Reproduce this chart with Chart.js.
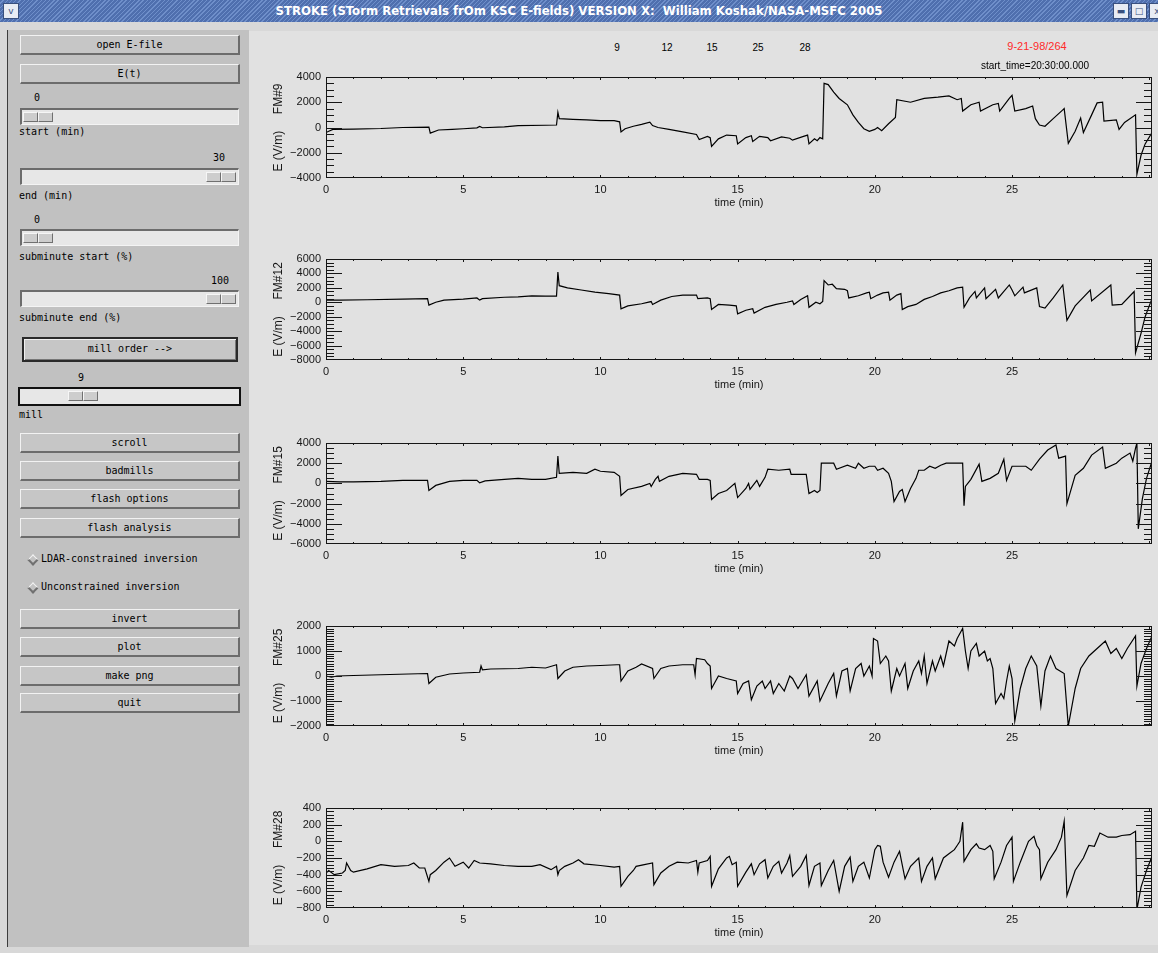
<!DOCTYPE html>
<html>
<head>
<meta charset="utf-8">
<script src="https://cdn.jsdelivr.net/npm/chart.js@4.4.1/dist/chart.umd.min.js"></script>
<style>
body{margin:0;width:1158px;height:953px;overflow:hidden;background:#d8d8d8;position:relative;font-family:"DejaVu Sans Mono",monospace;font-size:10px;color:#000}
#titlebar{position:absolute;left:0;top:0;width:1158px;height:22px;background:repeating-linear-gradient(135deg,#4f6fae 0,#4f6fae 2px,#6f8fca 2px,#6f8fca 3px);color:#fff;font:bold 13px "DejaVu Sans Condensed","DejaVu Sans",sans-serif;line-height:22px;text-align:center;white-space:pre}
.tbb{position:absolute;top:3px;width:14px;height:14px;background:#e8ecf4;border:1px solid #39507e;color:#39507e;font:9px "DejaVu Sans",sans-serif;line-height:14px;text-align:center}
#side{position:absolute;left:7px;top:30px;width:241px;height:917px;background:#c1c1c1;border-left:1px solid #3c3c3c}
.btn{position:absolute;left:12px;width:220px;height:20px;box-sizing:border-box;background:#c6c6c6;border-top:1px solid #f2f2f2;border-left:1px solid #f2f2f2;border-bottom:2px solid #6c6c6c;border-right:2px solid #6c6c6c;text-align:center;line-height:17px}
.lbl{position:absolute;left:11px;white-space:pre}
.track{position:absolute;left:12px;width:219px;height:17px;box-sizing:border-box;background:#e7e7e7;border-top:2px solid #6c6c6c;border-left:2px solid #6c6c6c;border-bottom:1px solid #f4f4f4;border-right:1px solid #f4f4f4}
.thumb{position:absolute;top:2px;width:15px;height:10px;box-sizing:border-box;background:#cdcdcd;border-top:1px solid #f6f6f6;border-left:1px solid #f6f6f6;border-bottom:1px solid #707070;border-right:1px solid #707070}
.dia{position:absolute;left:21px;width:8px;height:8px;box-sizing:border-box;transform:rotate(45deg);background:#c3c3c3;border-top:1px solid #f4f4f4;border-left:1px solid #f4f4f4;border-bottom:2px solid #707070;border-right:2px solid #707070}
#plots{position:absolute;left:249px;top:31px;width:909px;height:914px;background:#e1e1e1}
canvas{position:absolute;left:250px}
.hdr{position:absolute;font:10px "Liberation Sans",sans-serif;transform:translate(-50%,-50%);white-space:pre}
</style>
</head>
<body>
<div id="titlebar"><div class="tbb" style="left:3px">v</div>STROKE (STorm Retrievals frOm KSC E-fields) VERSION X:  William Koshak/NASA-MSFC 2005<div class="tbb" style="left:1113px">&#9644;</div><div class="tbb" style="left:1131px">&#9633;</div><div class="tbb" style="left:1149px">x</div></div>
<div id="side">
  <div class="btn" style="top:5px">open E-file</div>
  <div class="btn" style="top:34px">E(t)</div>
  <div class="lbl" style="left:26px;top:62px">0</div>
  <div class="track" style="top:78px"><div class="thumb" style="left:1px"></div><div class="thumb" style="left:16px"></div></div>
  <div class="lbl" style="top:96px">start (min)</div>
  <div class="lbl" style="left:205px;top:122px">30</div>
  <div class="track" style="top:138px"><div class="thumb" style="left:184px"></div><div class="thumb" style="left:199px"></div></div>
  <div class="lbl" style="top:160px">end (min)</div>
  <div class="lbl" style="left:26px;top:184px">0</div>
  <div class="track" style="top:199px"><div class="thumb" style="left:1px"></div><div class="thumb" style="left:16px"></div></div>
  <div class="lbl" style="top:221px">subminute start (%)</div>
  <div class="lbl" style="left:203px;top:245px">100</div>
  <div class="track" style="top:260px"><div class="thumb" style="left:184px"></div><div class="thumb" style="left:199px"></div></div>
  <div class="lbl" style="top:282px">subminute end (%)</div>
  <div class="btn" style="top:307px;left:14px;width:216px;height:25px;border:2px solid #2a2a2a;box-shadow:inset 1px 1px #f0f0f0,inset -1px -1px #777;line-height:20px">mill order --&gt;</div>
  <div class="lbl" style="left:70px;top:342px">9</div>
  <div class="track" style="top:357px;left:10px;width:223px;height:19px;border:2px solid #111"><div class="thumb" style="left:48px;top:2px"></div><div class="thumb" style="left:63px;top:2px"></div></div>
  <div class="lbl" style="top:379px">mill</div>
  <div class="btn" style="top:403px">scroll</div>
  <div class="btn" style="top:431px">badmills</div>
  <div class="btn" style="top:459px">flash options</div>
  <div class="btn" style="top:488px">flash analysis</div>
  <div class="dia" style="top:526px"></div><div class="lbl" style="left:33px;top:523px">LDAR-constrained inversion</div>
  <div class="dia" style="top:554px"></div><div class="lbl" style="left:33px;top:551px">Unconstrained inversion</div>
  <div class="btn" style="top:579px">invert</div>
  <div class="btn" style="top:607px">plot</div>
  <div class="btn" style="top:636px">make png</div>
  <div class="btn" style="top:663px">quit</div>
</div>
<div id="plots"></div>
<canvas id="c0" width="908" height="153" style="top:65px"></canvas>
<canvas id="c1" width="908" height="153" style="top:247px"></canvas>
<canvas id="c2" width="908" height="153" style="top:431px"></canvas>
<canvas id="c3" width="908" height="152" style="top:614px"></canvas>
<canvas id="c4" width="908" height="152" style="top:796px"></canvas>
<script>
// field mill ids shown above the plots
const mills = ['9', '12', '15', '25', '28'];
const stationDate = '9-21-98/264';
const startTime = 'start_time=20:30:00.000';

// [time (min), E (V/m)]
const fm9 = [[0,-400],[0.1,-300],[0.25,-150],[1,-130],[2,-80],[2.8,0],[3.75,30],[3.8,-450],[4.1,-200],[4.6,-150],[5,-100],[5.5,-30],[5.6,80],[5.7,-20],[6.5,50],[7,150],[8,180],[8.4,200],[8.45,1200],[8.5,700],[9,650],[9.5,600],[10,550],[10.5,550],[10.7,450],[10.75,-350],[10.9,-100],[11.2,100],[11.5,250],[11.8,420],[11.9,150],[12.1,0],[12.5,-150],[13,-350],[13.5,-550],[13.6,-950],[13.9,-700],[14,-800],[14.05,-1500],[14.3,-900],[14.6,-600],[14.95,-650],[15,-1300],[15.3,-800],[15.5,-650],[15.55,-1100],[15.8,-700],[16.1,-800],[16.2,-1050],[16.6,-750],[16.9,-850],[17,-1000],[17.4,-700],[17.55,-600],[17.6,-1300],[17.8,-900],[17.9,-1050],[18,-800],[18.1,-900],[18.15,3500],[18.3,3400],[18.5,2800],[18.7,2300],[19,1800],[19.2,1000],[19.4,400],[19.6,-100],[19.8,-300],[20,-150],[20.1,0],[20.25,-250],[20.5,300],[20.75,800],[20.8,2200],[21.3,2000],[21.8,2300],[22.3,2400],[22.7,2500],[23,2200],[23.15,2300],[23.2,1300],[23.5,1800],[23.8,2000],[23.85,1300],[24.3,1800],[24.5,1900],[24.55,1300],[24.9,2300],[25,2550],[25.1,1300],[25.5,1500],[25.75,1700],[25.85,700],[26,200],[26.2,100],[26.5,700],[26.85,1400],[26.9,1500],[27.05,-1250],[27.3,-300],[27.5,750],[27.6,-400],[27.9,1000],[28.1,1950],[28.3,2000],[28.35,500],[28.8,600],[28.9,-150],[29.1,400],[29.5,1000],[29.55,-3700],[29.7,-2200],[29.85,-1300],[30.1,-400]];
const fm12 = [[0,300],[0.5,300],[1.5,350],[2.8,450],[3.7,500],[3.75,-400],[4,0],[4.3,300],[5,450],[5.5,600],[5.6,300],[5.7,500],[6.5,700],[7,750],[7.5,900],[8,850],[8.4,850],[8.45,4200],[8.5,2300],[8.8,2000],[9.3,1700],[9.8,1400],[10.3,1200],[10.7,1000],[10.75,-900],[11,-500],[11.5,-200],[11.85,100],[11.9,-300],[12.2,300],[12.6,800],[13,1000],[13.5,1000],[13.55,500],[13.9,600],[14,500],[14.05,-1000],[14.3,-300],[14.7,-400],[14.95,-500],[15,-1600],[15.3,-1100],[15.55,-900],[15.6,-1500],[16,-700],[16.4,-300],[16.8,0],[17,200],[17.05,-300],[17.3,400],[17.55,900],[17.6,-700],[17.85,0],[18,-200],[18.1,100],[18.15,3000],[18.3,2400],[18.45,2500],[18.6,1900],[18.9,1800],[19,1600],[19.05,600],[19.4,900],[19.7,1300],[19.8,1400],[19.85,500],[20.1,1000],[20.3,1300],[20.5,1400],[20.55,300],[20.8,1000],[20.95,1200],[21,-1000],[21.2,-600],[21.5,-300],[21.8,400],[22.1,800],[22.4,1300],[22.7,1600],[23,2000],[23.2,2100],[23.25,-700],[23.45,600],[23.65,1500],[23.7,600],[24,2000],[24.05,500],[24.4,1800],[24.5,600],[24.9,2400],[25,1700],[25.1,900],[25.4,2100],[25.45,1300],[25.9,2000],[26,-600],[26.2,-800],[26.5,600],[26.85,2400],[27,-2500],[27.3,-500],[27.85,1700],[27.9,200],[28.6,2400],[28.65,-400],[29,-300],[29.45,1500],[29.5,-7000],[29.7,-4300],[29.85,-2000],[30.1,500]];
const fm15 = [[0,200],[0.5,150],[1,150],[2,200],[2.8,300],[3.7,300],[3.75,-700],[4,-200],[4.5,200],[5,300],[5.5,300],[5.6,50],[5.8,250],[6.5,400],[7,500],[7.5,400],[8,400],[8.4,600],[8.45,2700],[8.5,1000],[9,1100],[9.5,1000],[9.8,1400],[10,1200],[10.5,1100],[10.7,700],[10.75,-1200],[11,-600],[11.5,-300],[11.8,0],[11.85,-300],[12,400],[12.1,700],[12.15,200],[12.5,700],[13,1000],[13.5,900],[13.6,400],[13.9,400],[14,300],[14.05,-1600],[14.3,-1000],[14.6,-700],[14.9,0],[15,-1400],[15.3,-500],[15.4,0],[15.45,-600],[15.7,300],[15.8,-300],[16,600],[16.1,1400],[16.5,1300],[16.9,1400],[16.95,900],[17.5,900],[17.6,-1000],[17.8,-700],[17.9,-900],[18,-700],[18.05,2000],[18.5,2000],[18.6,1400],[19,1800],[19.3,1500],[19.4,2000],[19.6,1500],[19.8,1700],[20,1700],[20.1,1300],[20.3,1500],[20.5,1000],[20.6,200],[20.7,-1800],[20.9,-800],[21,-600],[21.1,-1800],[21.3,-500],[21.5,500],[21.6,1300],[21.8,1300],[22,1700],[22.2,1500],[22.4,1800],[22.6,2000],[23,2000],[23.2,2000],[23.25,-2200],[23.3,-300],[23.5,400],[23.8,1900],[23.9,200],[24.2,500],[24.5,1000],[24.7,2400],[24.8,300],[25,1700],[25.5,1700],[25.7,1300],[26,2400],[26.3,3300],[26.6,3800],[26.7,2500],[26.95,2700],[27,-2000],[27.3,800],[27.6,1500],[27.9,2800],[28.3,3600],[28.4,1500],[28.8,2000],[29,2500],[29.3,3000],[29.4,2200],[29.5,3500],[29.55,4000],[29.6,-4500],[29.75,-1500],[29.9,500],[30.1,2200]];
const fm25 = [[0,0],[0.2,-50],[0.4,0],[1,20],[2,50],[3,80],[3.7,100],[3.75,-300],[4,-50],[4.5,80],[5,120],[5.6,150],[5.65,400],[5.7,250],[6,280],[7,300],[7.5,350],[8,320],[8.4,450],[8.45,-100],[8.7,200],[9,350],[9.5,400],[10,420],[10.6,450],[10.7,450],[10.75,-200],[11,200],[11.3,350],[11.5,480],[11.9,300],[11.95,-100],[12.2,300],[12.5,400],[13,450],[13.4,450],[13.45,50],[13.5,700],[13.8,650],[13.9,500],[14,400],[14.05,-500],[14.3,0],[14.6,-100],[14.95,-200],[15,-700],[15.2,-300],[15.4,-200],[15.5,-950],[15.7,-400],[15.9,-200],[16,-500],[16.2,-200],[16.3,-700],[16.5,-300],[16.7,-600],[16.9,0],[17,-100],[17.2,-500],[17.5,50],[17.6,-800],[17.9,-200],[18,-1000],[18.3,-300],[18.5,100],[18.6,-800],[18.8,200],[19,300],[19.1,-600],[19.3,300],[19.5,500],[19.6,0],[19.8,400],[19.9,0],[19.95,1500],[20.1,1400],[20.2,500],[20.4,800],[20.5,600],[20.6,-600],[20.8,300],[20.9,0],[21.1,500],[21.2,-500],[21.4,200],[21.6,600],[21.7,100],[21.8,800],[21.9,-300],[22.1,600],[22.2,200],[22.4,800],[22.5,400],[22.7,1400],[22.9,1200],[23,1500],[23.2,1900],[23.3,1000],[23.4,300],[23.5,1000],[23.7,1300],[23.8,800],[24,1000],[24.1,600],[24.2,700],[24.3,300],[24.4,-1100],[24.6,-700],[24.7,-900],[24.8,-200],[24.9,400],[25,-100],[25.1,-1800],[25.3,-500],[25.5,300],[25.7,800],[25.9,400],[26.05,-1200],[26.2,200],[26.4,800],[26.6,300],[26.9,100],[27.05,-2000],[27.3,-500],[27.5,300],[27.8,800],[28.2,1200],[28.4,1400],[28.6,900],[28.8,1100],[29,700],[29.2,1100],[29.5,1600],[29.55,-400],[29.7,500],[29.9,1100],[30.1,1600]];
const fm28 = [[0,-380],[0.1,-350],[0.3,-400],[0.6,-380],[0.7,-350],[0.75,-260],[0.9,-350],[1,-370],[1.5,-330],[2,-280],[2.5,-300],[3,-290],[3.2,-260],[3.4,-320],[3.6,-320],[3.75,-480],[3.8,-400],[4,-350],[4.3,-250],[4.5,-200],[4.7,-300],[5,-250],[5.2,-320],[5.4,-230],[5.6,-260],[6,-270],[6.5,-290],[7,-300],[7.5,-300],[7.8,-280],[8.2,-340],[8.4,-300],[8.45,-400],[8.5,-350],[8.7,-300],[9,-260],[9.2,-220],[9.4,-270],[10,-290],[10.5,-310],[10.7,-300],[10.75,-540],[11,-420],[11.2,-350],[11.3,-300],[11.6,-280],[11.9,-260],[11.95,-520],[12.2,-380],[12.5,-300],[12.8,-250],[13.2,-260],[13.5,-230],[13.55,-370],[13.6,-260],[13.9,-230],[14,-180],[14.05,-540],[14.3,-330],[14.6,-200],[14.7,-180],[14.8,-280],[14.95,-250],[15,-540],[15.3,-370],[15.5,-270],[15.6,-400],[15.8,-270],[16,-220],[16.1,-440],[16.3,-300],[16.5,-240],[16.6,-380],[16.8,-260],[16.9,-170],[17,-420],[17.3,-300],[17.5,-170],[17.6,-530],[17.8,-300],[18,-260],[18.05,-530],[18.3,-350],[18.5,-230],[18.7,-600],[18.9,-300],[19.1,-190],[19.2,-480],[19.4,-300],[19.6,-250],[19.8,-440],[20,-100],[20.1,-50],[20.2,-60],[20.3,-250],[20.5,-430],[20.7,-250],[20.9,-120],[21.1,-450],[21.3,-300],[21.6,-200],[21.7,-480],[21.9,-300],[22.1,-200],[22.2,-450],[22.5,-200],[22.7,-150],[22.9,-100],[23,-50],[23.1,0],[23.2,230],[23.25,-240],[23.5,-100],[23.7,-30],[23.8,-80],[24,-100],[24.2,-50],[24.3,-120],[24.35,-450],[24.6,-250],[24.8,-50],[25,50],[25.05,-480],[25.3,-250],[25.6,0],[25.8,60],[25.9,-50],[26,-100],[26.05,-450],[26.3,-250],[26.6,-100],[26.8,50],[26.9,240],[27,-650],[27.3,-350],[27.6,-200],[27.8,-50],[28,-60],[28.2,100],[28.5,50],[28.8,50],[29,70],[29.3,80],[29.5,120],[29.55,-820],[29.7,-550],[29.9,-350],[30.1,-180]];

const yMin = [-4000, -8000, -6000, -2000, -800];
const yMax = [4000, 6000, 4000, 2000, 400];
const yStep = [2000, 2000, 2000, 1000, 200];
const yMinor = [500, 500, 500, 100, 40];
const xLabels = [0, 5, 10, 15, 20, 25];
const xMax = 30.1;

const series = [fm9, fm12, fm15, fm25, fm28];
const ink = '#161616';
const tickFont = {family: 'Liberation Sans', size: 11};

// header text over the plots
const millX = [617, 667, 712, 758, 805];
mills.forEach(function (m, i) {
    const d = document.createElement('div');
    d.className = 'hdr';
    d.style.left = millX[i] + 'px';
    d.style.top = '47px';
    d.textContent = m;
    document.body.appendChild(d);
});
var dt = document.createElement('div');
dt.className = 'hdr';
dt.style.cssText = 'left:1037px;top:46px;color:#ff2a2a;font-size:11px';
dt.textContent = stationDate;
document.body.appendChild(dt);
var st = document.createElement('div');
st.className = 'hdr';
st.style.cssText = 'left:1035px;top:65px';
st.textContent = startTime;
document.body.appendChild(st);

// IDL style frame: box plus inward ticks on all four sides, placed with the chart's scales
const idlFrame = {
    id: 'idlFrame',
    afterDraw: function (chart, args, o) {
        var a = chart.chartArea, xs = chart.scales.x, ys = chart.scales.y, ctx = chart.ctx;
        var x0 = Math.round(a.left), x1 = Math.round(a.right);
        var y0 = Math.round(a.top), y1 = Math.round(a.bottom);
        ctx.save();
        ctx.fillStyle = ink;
        // box
        ctx.fillRect(x0, y0, x1 - x0, 1);
        ctx.fillRect(x0, y1 - 1, x1 - x0, 1);
        ctx.fillRect(x0, y0, 1, y1 - y0);
        ctx.fillRect(x1 - 1, y0, 1, y1 - y0);
        var n = Math.round((o.hi - o.lo) / o.minor);
        for (var k = 0; k <= n; k++) {
            var v = o.lo + k * o.minor;
            var py = Math.min(Math.round(ys.getPixelForValue(v)), y1 - 1);
            var len = (Math.abs(v % o.major) < 1e-6) ? 16 : 8;
            ctx.fillRect(x0, py, len, 1);
            ctx.fillRect(x1 - len, py, len, 1);
        }
        for (var t = 0; t <= o.xEnd; t++) {
            var px = Math.round(xs.getPixelForValue(t));
            var tl = (t % 5 === 0) ? 3 : 2;
            ctx.fillRect(px, y1 - tl, 1, tl);
            ctx.fillRect(px, y0, 1, tl);
        }
        ctx.restore();
    }
};

function makeChart(i) {
    var ctx = document.getElementById('c' + i);
    new Chart(ctx, {
        type: 'line',
        data: {
            datasets: [{
                data: series[i].map(function (p) { return {x: p[0], y: p[1]}; }),
                borderColor: '#000',
                borderWidth: 1.2,
                pointRadius: 0,
                tension: 0,
                fill: false
            }]
        },
        options: {
            responsive: false,
            animation: false,
            events: [],
            layout: {padding: {top: 12, right: 6, left: 0, bottom: 0}},
            plugins: {
                legend: {display: false},
                tooltip: {enabled: false},
                idlFrame: {lo: yMin[i], hi: yMax[i], major: yStep[i], minor: yMinor[i], xEnd: 30}
            },
            scales: {
                x: {
                    type: 'linear', position: 'bottom', min: 0, max: xMax,
                    afterBuildTicks: function (s) { s.ticks = xLabels.map(function (v) { return {value: v}; }); },
                    ticks: {autoSkip: false, maxRotation: 0, padding: 5, color: ink, font: tickFont},
                    grid: {display: false, drawTicks: false, tickLength: 0},
                    border: {display: false},
                    title: {display: true, text: 'time (min)', color: ink, font: tickFont, padding: {top: 0, bottom: 8}},
                    afterFit: function (s) { s.height = 40; }
                },
                y: {
                    type: 'linear', position: 'left', min: yMin[i], max: yMax[i],
                    ticks: {stepSize: yStep[i], autoSkip: false, padding: 5, color: ink, font: tickFont,
                        callback: function (v) { return String(v).replace('-', '\u2212'); }},
                    grid: {display: false, drawTicks: false, tickLength: 0},
                    border: {display: false},
                    title: {display: true, text: 'E (V/m)     FM#' + mills[i], color: ink, font: {family: 'Liberation Sans', size: 12}, padding: {top: 21, bottom: 0}},
                    afterFit: function (s) { s.width = 76; }
                }
            }
        },
        plugins: [idlFrame]
    });
}

for (var i = 0; i < series.length; i++) makeChart(i);
</script>
</body>
</html>
